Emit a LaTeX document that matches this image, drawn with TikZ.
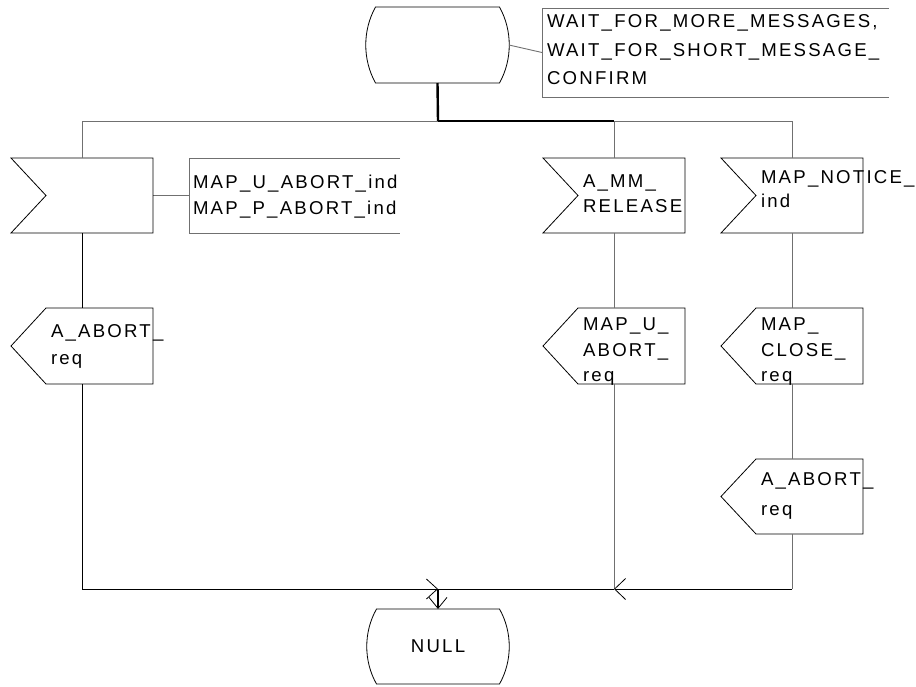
\documentclass[tikz,border=0pt]{standalone}
\usepackage{fontspec}
\newfontfamily\sdlfont{Liberation Sans}[LetterSpace=12]
\usetikzlibrary{arrows.meta,calc}
\definecolor{lngray}{RGB}{112,112,112}
\begin{document}
\begin{tikzpicture}[x=1pt,y=-1pt,
  holder/.style 2 args={inner sep=0pt,outer sep=0pt,minimum width=#1,minimum height=#2},
  sym/.style={draw=black,line width=0.8pt},
  symg/.style={draw=lngray,line width=0.9pt},
  flowk/.style={draw=black,line width=0.9pt},
  flowg/.style={draw=lngray,line width=1pt},
  bold/.style={draw=black,line width=2.4pt},
  txt/.style={inner sep=0pt,outer sep=0pt,anchor=north west,align=left,
    font=\sdlfont\fontsize{18.6pt}{#1}\selectfont},
  txt/.default=25.5pt,
  barb/.style={-{Straight Barb[length=11pt,width=#1,line width=0.8pt]}}
]
\useasboundingbox (0,0) rectangle (916,686);

% ---------- holders (named nodes) ----------
\node[holder={143pt}{76pt}] (s0) at (437.5,45) {};
\node[holder={347pt}{89pt}] (wc) at (715.5,52.5) {};
\node[holder={142pt}{75pt}] (in1) at (82,195.5) {};
\node[holder={211pt}{75pt}] (c1) at (294.5,195.5) {};
\node[holder={142pt}{75pt}] (in2) at (614,195.5) {};
\node[holder={142pt}{75pt}] (in3) at (792,195.5) {};
\node[holder={142pt}{76pt}] (out1) at (82,346) {};
\node[holder={142pt}{76pt}] (out2) at (614,346) {};
\node[holder={142pt}{76pt}] (out3) at (792,346) {};
\node[holder={142pt}{75pt}] (out4) at (792,496.5) {};
\node[holder={142pt}{75pt}] (null) at (438,646.5) {};
\coordinate (fork) at (438,121);
\coordinate (forkm) at (614,121);
\coordinate (m) at (438,589);
\coordinate (mr) at (614,589);

% ---------- state symbols ----------
\foreach \n in {s0,null}{
\draw[sym] ([xshift=9.5pt]\n.north west) -- ([xshift=-9.5pt]\n.north east)
  .. controls ([xshift=3.5pt,yshift=14.5pt]\n.east) and ([xshift=3.5pt,yshift=-14.5pt]\n.east) .. ([xshift=-9.5pt]\n.south east)
  -- ([xshift=9.5pt]\n.south west)
  .. controls ([xshift=-3.5pt,yshift=-14.5pt]\n.west) and ([xshift=-3.5pt,yshift=14.5pt]\n.west) .. cycle;
}
\node[inner sep=0pt,font=\sdlfont\fontsize{18.6pt}{22pt}\selectfont] (nulltxt) at (null) {NULL};

% ---------- comment boxes ----------
\draw[symg] (wc.north east) -- (wc.north west) -- (wc.south west) -- (wc.south east);
\draw[symg] (c1.north east) -- (c1.north west) -- (c1.south west) -- (c1.south east);
\draw[symg] (s0.east) -- (wc.west);
\draw[symg] (in1.east) -- (c1.west);

% ---------- input symbols ----------
\foreach \n in {in1,in2,in3}{
  \draw[sym] (\n.north west) -- (\n.north east) -- (\n.south east) -- (\n.south west)
    -- ([xshift=35pt]\n.west) -- cycle;
}
% ---------- output symbols ----------
\foreach \n in {out1,out2,out3,out4}{
  \draw[sym] ([xshift=35pt]\n.north west) -- (\n.north east) -- (\n.south east)
    -- ([xshift=35pt]\n.south west) -- (\n.west) -- cycle;
}

% ---------- texts ----------
\node[txt=28.3pt] (twc) at (547,15) {WAIT\_FOR\_MORE\_MESSAGES,\\WAIT\_FOR\_SHORT\_MESSAGE\_\\CONFIRM};
\node[txt=26pt] (tc1) at (193,175) {MAP\_U\_ABORT\_ind\\MAP\_P\_ABORT\_ind};
\node[txt=25pt] (tin2) at (583,175) {A\_MM\_\\RELEASE};
\node[txt=24pt] (tin3) at (761,171) {MAP\_NOTICE\_\\ind};
\node[txt=27pt] (tout1) at (51,325) {A\_ABORT\_\\req};
\node[txt=25.5pt] (tout2) at (583,318) {MAP\_U\_\\ABORT\_\\req};
\node[txt=25.5pt] (tout3) at (761,318) {MAP\_\\CLOSE\_\\req};
\node[txt=30pt] (tout4) at (761,473) {A\_ABORT\_\\req};

% ---------- connectors ----------
\draw[bold] (s0.south) -- (fork);
\draw[bold] (fork) -- (forkm);
\draw[flowg] (fork) -| (in1.north);
\draw[flowg] (forkm) -- (in2.north);
\draw[flowg] (forkm) -| (in3.north);

\draw[flowk] (in1.south) -- (out1.north);
\draw[flowg] (in2.south) -- (out2.north);
\draw[flowg] (in3.south) -- (out3.north);
\draw[flowg] (out3.south) -- (out4.north);

\draw[flowk,barb=20pt] (out1.south) |- (m);
\draw[flowg] (out2.south) -- (mr);
\draw[flowk] (mr) -- (m);
\draw[flowg] (out4.south) -- ++(0,55) coordinate (rc);
\draw[flowk,barb=21pt] (rc) -- (mr);
\draw[bold,barb=18pt] (m) -- (null.north);
\end{tikzpicture}
\end{document}
